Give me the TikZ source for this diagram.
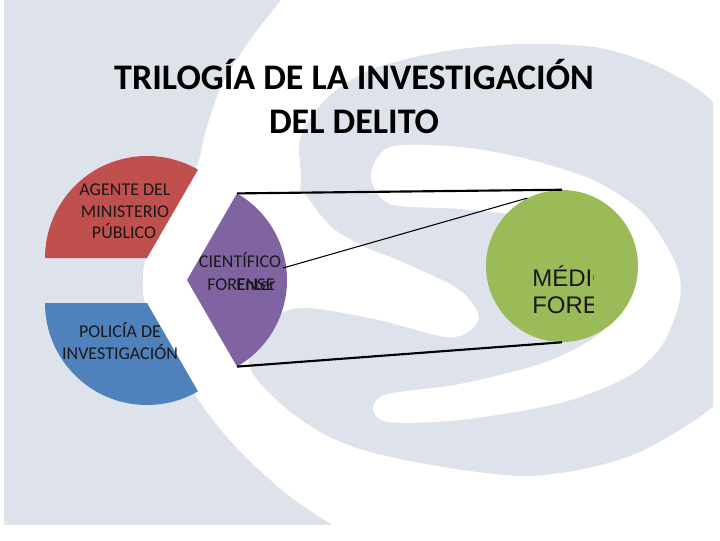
\documentclass[tikz,border=0pt]{standalone}
\usepackage{fontspec}
\setmainfont{Carlito}
\newfontfamily\arialf{Liberation Sans}
\definecolor{bgGrey}{RGB}{222,227,235}
\definecolor{pieRed}{RGB}{192,80,77}
\definecolor{pieBlue}{RGB}{79,129,189}
\definecolor{piePurple}{RGB}{128,100,162}
\definecolor{pieGreen}{RGB}{155,187,89}
\tikzset{
  titletext/.style={anchor=base, font=\bfseries\fontsize{27}{32}\selectfont, text=black, inner sep=0pt},
  pietext/.style={anchor=base, font=\fontsize{13.5}{16}\selectfont, text=black!90, inner sep=0pt},
  medtext/.style={anchor=base west, font=\arialf\fontsize{18}{21}\selectfont, text=black!90, inner sep=0pt},
  thickline/.style={draw=black, line width=1.6pt},
  thinline/.style={draw=black, line width=0.8pt}
}
\begin{document}
\begin{tikzpicture}[x=0.75pt,y=-0.75pt]
\useasboundingbox (0,0) rectangle (720,540);
\fill[white] (0,0) rectangle (720,540);
\fill[bgGrey] (4,0) rectangle (713,525);
% white outer ring region
\fill[white] plot[smooth] coordinates {(283,-2) (250,40) (222,85) (206,130) (196,168) (166,215) (146,258) (143,282) (146,306) (168,350) (192,390) (207,412) (226,436) (254,465) (292,498) (337,528)} -- (337,545) -- (730,545) -- (730,-5) -- cycle;
% grey disc of the logo
\begin{scope}
\clip (4,0) rectangle (713,525);
\fill[bgGrey] plot[smooth cycle] coordinates {(300,190) (300,140) (325,100) (370,70) (440,52) (520,44) (600,48) (665,70) (720,110) (760,200) (760,330) (720,400) (650,447) (593,467) (530,476) (470,471) (410,461) (360,449) (320,432) (280,403) (250,367) (255,320) (275,270)};
\end{scope}
% white middle band
\fill[white] plot[smooth cycle] coordinates {(215,190) (270,180) (302,192) (318,212) (335,230) (365,247) (400,261) (450,284) (470,300) (479,318) (468,332) (445,337) (383,321) (320,309) (288,310) (268,325) (252,350) (225,330) (212,260)};
% white reversed C
\fill[white] plot[smooth cycle] coordinates {(390,147) (460,147) (527,159) (593,180) (643,213) (675,262) (680,298) (662,345) (627,377) (560,403) (460,420) (388,422) (373,408) (388,394) (460,384) (543,363) (598,335) (624,298) (622,262) (600,235) (560,220) (460,209) (390,204) (371,176)};

% title
\node[titletext] (title1) at (354,89) {TRILOGÍA DE LA INVESTIGACIÓN};
\node[titletext] (title2) at (354,133) {DEL DELITO};

% pie pieces
\fill[pieRed] (147,258) -- ++(-60:102) arc[start angle=-60, end angle=-180, radius=102] -- cycle;
\fill[pieBlue] (147,303) -- ++(180:102) arc[start angle=180, end angle=60, radius=102] -- cycle;
\fill[piePurple] (187,280) -- ++(-60:100) arc[start angle=-60, end angle=60, radius=100] -- cycle;
\coordinate (sciTop) at (237,193.4);
\coordinate (sciBot) at (237,366.6);
\coordinate (sciLine) at (283,268);

\node[pietext] (ag1) at (125,195) {AGENTE DEL};
\node[pietext] (ag2) at (125,217) {MINISTERIO};
\node[pietext] (ag3) at (124,238.5) {PÚBLICO};
\node[pietext] (po1) at (120,337) {POLICÍA DE};
\node[pietext] (po2) at (120,359) {INVESTIGACIÓN};
\node[pietext] (sc1) at (240,267) {CIENTÍFICO};
\node[pietext, anchor=base west] (sc2) at (207,290) {FORENSE};
\node[pietext, anchor=base west] (sc3) at (236,290) {Enter};

% green circle
\node[circle, fill=pieGreen, minimum size=114pt, inner sep=0pt] (med) at (562,266) {};
\begin{scope}
\clip (480,180) rectangle (593,350);
\node[medtext] (md1) at (532,286.5) {MÉDICO};
\node[medtext] (md2) at (532,313.5) {FORENSE};
\end{scope}

% connectors
\draw[thickline] (sciTop) -- (med.north);
\draw[thinline] (sciLine) -- (med.117);
\draw[thickline] (sciBot) -- (med.south);
\end{tikzpicture}
\end{document}
